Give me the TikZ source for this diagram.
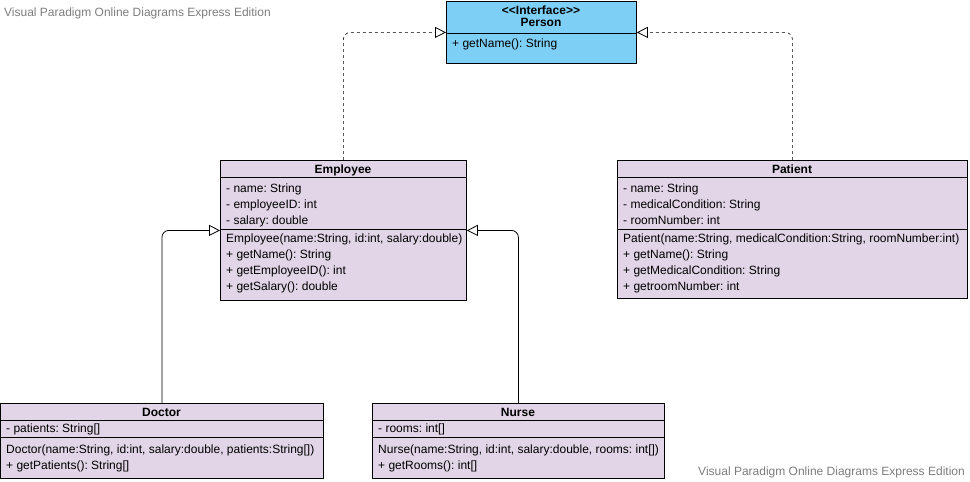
\documentclass[tikz,border=0pt]{standalone}
\usepackage{fontspec}
\setmainfont{Liberation Sans}
\frenchspacing
\usetikzlibrary{arrows.meta, positioning, calc}
\definecolor{ifacefill}{RGB}{126,207,246}
\definecolor{classfill}{RGB}{225,213,231}
\definecolor{wmgray}{RGB}{125,125,125}

\tikzset{
  classbox/.style={draw, fill=#1, line width=0.8pt, anchor=north west, inner sep=0pt},
  member/.style={anchor=base west, inner sep=0pt, font=\fontsize{12}{14}\selectfont},
  classname/.style={anchor=base, inner sep=0pt, font=\fontsize{12}{14}\selectfont\bfseries},
  realize/.style={line width=0.6pt, dash pattern=on 3pt off 3pt, rounded corners=7pt,
    -{Triangle[length=11pt, width=11pt, fill=white, line width=0.8pt]}},
  inherit/.style={line width=0.8pt, rounded corners=7pt,
    -{Triangle[length=11pt, width=11pt, fill=white, line width=0.8pt]}},
  watermark/.style={inner sep=0pt, text=wmgray, font=\fontsize{12}{14}\selectfont}
}

\begin{document}
\begin{tikzpicture}[x=1pt, y=-1pt]
        \useasboundingbox (0,0) rectangle (970,482);

        % Watermarks
        \node[watermark, anchor=base west] (wm1) at (4,16) {Visual Paradigm Online Diagrams Express Edition};
        \node[watermark, anchor=base east] (wm2) at (965,475) {Visual Paradigm Online Diagrams Express Edition};

        % Person interface
        \node[classbox=ifacefill, minimum width=190pt, minimum height=62pt] (person) at (446,1) {};
        \draw[line width=0.8pt] (person.north west) ++(0,32) -- ++(190,0);
        \node[classname] (person-st) at (541,14) {<\kern0pt<Interface>\kern0pt>};
        \node[classname] (person-nm) at (541,26.5) {Person};
        \node[member] (person-m1) at (452,47.5) {+ getName(): String};

        % Employee
        \node[classbox=classfill, minimum width=246pt, minimum height=140pt] (emp) at (220,160) {};
        \draw[line width=0.8pt] (emp.north west) ++(0,17) -- ++(246,0);
        \draw[line width=0.8pt] (emp.north west) ++(0,69) -- ++(246,0);
        \node[classname] (emp-nm) at (343,173.5) {Employee};
        \foreach \txt [count=\i] in {- name: String, - employeeID: int, - salary: double}
          \node[member] (emp-a\i) at (226,176.5+16*\i) {\txt};
        \foreach \txt [count=\i] in {{Employee(name:String, id:int, salary:double)}, + getName(): String,
            + getEmployeeID(): int, + getSalary(): double}
          \node[member] (emp-m\i) at (226,226.5+16*\i) {\txt};

        % Patient
        \node[classbox=classfill, minimum width=350pt, minimum height=138pt] (patient) at (617,160) {};
        \draw[line width=0.8pt] (patient.north west) ++(0,17) -- ++(350,0);
        \draw[line width=0.8pt] (patient.north west) ++(0,69) -- ++(350,0);
        \node[classname] (patient-nm) at (792,173.5) {Patient};
        \foreach \txt [count=\i] in {- name: String, - medicalCondition: String, - roomNumber: int}
          \node[member] (patient-a\i) at (623,176.5+16*\i) {\txt};
        \foreach \txt [count=\i] in {{Patient(name:String, medicalCondition:String, roomNumber:int)},
            + getName(): String, + getMedicalCondition: String, + getroomNumber: int}
          \node[member] (patient-m\i) at (623,226.5+16*\i) {\txt};

        % Doctor
        \node[classbox=classfill, minimum width=323pt, minimum height=75pt] (doctor) at (0,403) {};
        \draw[line width=0.8pt] (doctor.north west) ++(0,17) -- ++(323,0);
        \draw[line width=0.8pt] (doctor.north west) ++(0,34) -- ++(323,0);
        \node[classname] (doctor-nm) at (161.5,416.5) {Doctor};
        \node[member] (doctor-a1) at (6,432.5) {- patients: String[]};
        \node[member] (doctor-m1) at (6,453.5) {Doctor(name:String, id:int, salary:double, patients:String[])};
        \node[member] (doctor-m2) at (6,469.5) {+ getPatients(): String[]};

        % Nurse
        \node[classbox=classfill, minimum width=292pt, minimum height=75pt] (nurse) at (372,403) {};
        \draw[line width=0.8pt] (nurse.north west) ++(0,17) -- ++(292,0);
        \draw[line width=0.8pt] (nurse.north west) ++(0,34) -- ++(292,0);
        \node[classname] (nurse-nm) at (518,416.5) {Nurse};
        \node[member] (nurse-a1) at (378,432.5) {- rooms: int[]};
        \node[member] (nurse-m1) at (378,453.5) {Nurse(name:String, id:int, salary:double, rooms: int[])};
        \node[member] (nurse-m2) at (378,469.5) {+ getRooms(): int[]};

        % Realization
        \draw[realize] (emp.north) |- (person.west);
        \draw[realize] (patient.north) |- (person.east);

        % Generalization
        \draw[inherit] (doctor.north) |- (emp.west);
        \draw[inherit] (nurse.north) |- (emp.east);

      \end{tikzpicture}
\end{document}
